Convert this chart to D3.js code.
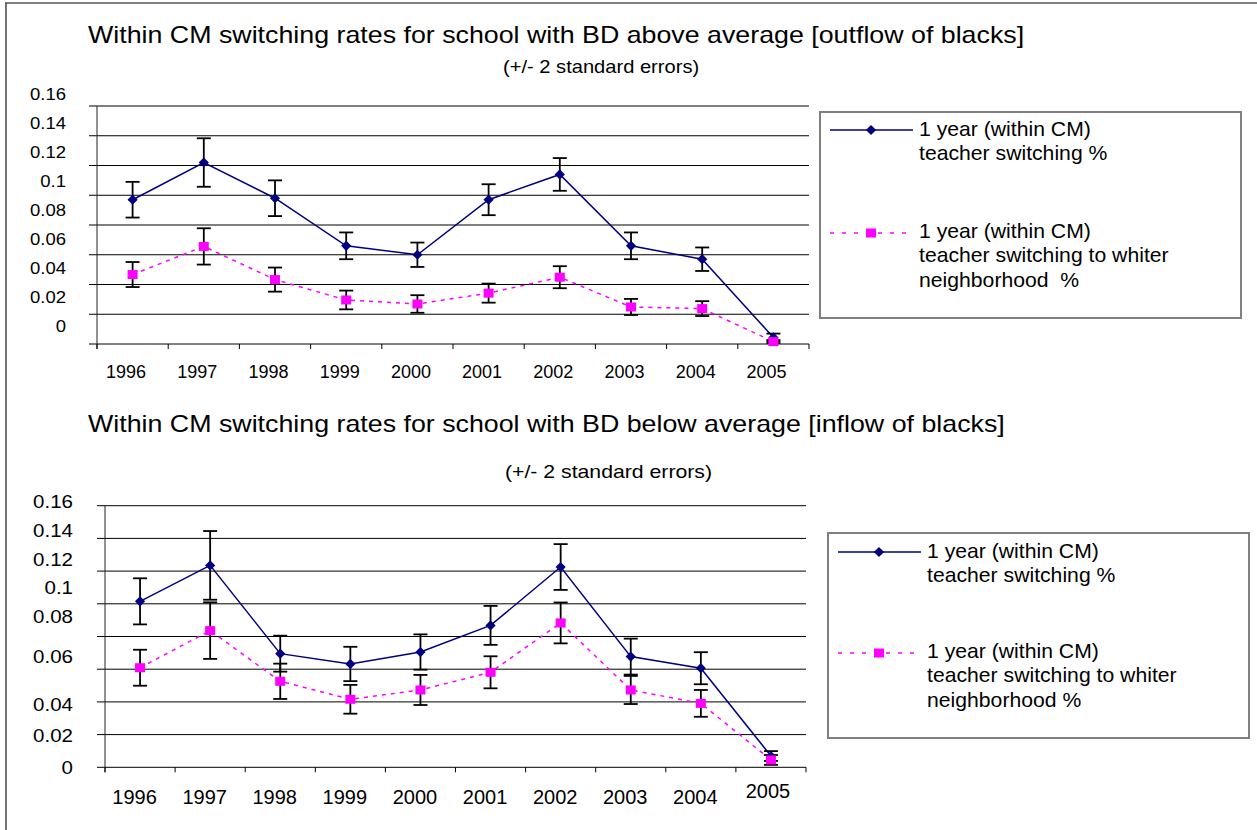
<!DOCTYPE html>
<html>
<head>
<meta charset="utf-8">
<script src="https://cdn.jsdelivr.net/npm/d3@7"></script>
<style>
  html, body { margin: 0; padding: 0; background: #fff; }
  svg { display: block; font-family: "Liberation Sans", Arial, sans-serif; }
  text { fill: #000; white-space: pre; }
</style>
</head>
<body>
<svg id="chart" width="1257" height="830"></svg>
<script>
// ---- data ----
const years = ["1996", "1997", "1998", "1999", "2000", "2001", "2002", "2003", "2004", "2005"];
const yTickValues = [0, 0.02, 0.04, 0.06, 0.08, 0.10, 0.12, 0.14, 0.16];
const yTickLabels = ["0", "0.02", "0.04", "0.06", "0.08", "0.1", "0.12", "0.14", "0.16"];

// schools with BD above average (outflow of blacks)
const switchAbove    = [0.097, 0.122, 0.098, 0.066, 0.060, 0.097, 0.114, 0.066, 0.057, 0.0044];
const switchAboveErr = [0.012, 0.0163, 0.012, 0.009, 0.0082, 0.0104, 0.011, 0.009, 0.0079, 0.0026];
const whiterAbove    = [0.0467, 0.0656, 0.0433, 0.0296, 0.0269, 0.0342, 0.0449, 0.0249, 0.0238, 0.0016];
const whiterAboveErr = [0.0084, 0.0122, 0.0081, 0.0063, 0.0059, 0.0064, 0.0074, 0.0054, 0.005, 0.001];

// schools with BD below average (inflow of blacks)
const switchBelow    = [0.1015, 0.1235, 0.0695, 0.0632, 0.0705, 0.0868, 0.1225, 0.0677, 0.0606, 0.0069];
const switchBelowErr = [0.0141, 0.021, 0.011, 0.0105, 0.0108, 0.0119, 0.014, 0.011, 0.0098, 0.003];
const whiterBelow    = [0.0609, 0.0836, 0.0526, 0.0416, 0.0473, 0.0581, 0.0883, 0.0473, 0.0391, 0.0045];
const whiterBelowErr = [0.011, 0.0173, 0.0108, 0.0088, 0.0092, 0.0098, 0.0125, 0.0086, 0.0082, 0.003];

const titleAbove = "Within CM switching rates for school with BD above average [outflow of blacks]";
const titleBelow = "Within CM switching rates for school with BD below average [inflow of blacks]";
const subtitle = "(+/- 2 standard errors)";
const legendSwitch = ["1 year (within CM)", "teacher switching %"];
const legendWhiterAbove = ["1 year (within CM)", "teacher switching to whiter", "neighborhood  %"];
const legendWhiterBelow = ["1 year (within CM)", "teacher switching to whiter", "neighborhood %"];

// ---- styling ----
const NAVY = "#000080";
const MAGENTA = "#FF00FF";

const svg = d3.select("#chart");

// outer frame edges
svg.append("line").attr("x1", 5).attr("x2", 1257).attr("y1", 3).attr("y2", 3)
  .attr("stroke", "#808080").attr("stroke-width", 2);
svg.append("line").attr("x1", 6).attr("x2", 6).attr("y1", 3).attr("y2", 830)
  .attr("stroke", "#444").attr("stroke-width", 1.5);

// text with a horizontal stretch factor
function label(g, x, y, str, size, sx, anchor) {
  return g.append("text")
    .attr("transform", `translate(${x},${y}) scale(${sx},1)`)
    .attr("text-anchor", anchor || "start")
    .attr("xml:space", "preserve")
    .style("font-size", size + "px")
    .text(str);
}

function drawPanel(cfg) {
  const g = svg.append("g");

  const x = d3.scaleBand().domain(years).range([cfg.left, cfg.right]).padding(0);
  const y = d3.scaleLinear().domain([0, 0.16]).range([cfg.bottom, cfg.top]);
  const cx = d => x(d) + x.bandwidth() / 2;

  // titles
  label(g, cfg.titleX, cfg.titleY, cfg.title, 23, 1.165);
  label(g, cfg.subX, cfg.subY, subtitle, cfg.subSize, cfg.subSx);

  // gridlines (extend left past the axis as tick marks)
  g.append("g").selectAll("line").data(yTickValues).join("line")
    .attr("x1", cfg.left - 8).attr("x2", cfg.right)
    .attr("y1", d => y(d)).attr("y2", d => y(d))
    .attr("stroke", "#000").attr("stroke-width", 1);

  // value axis line
  g.append("line").attr("x1", cfg.left).attr("x2", cfg.left)
    .attr("y1", y(0.16)).attr("y2", y(0) + 5)
    .attr("stroke", "#222").attr("stroke-width", 1);

  // category tick marks between years
  const edges = years.map(d => x(d)).concat([x.range()[1]]);
  g.append("g").selectAll("line").data(edges).join("line")
    .attr("x1", d => d).attr("x2", d => d)
    .attr("y1", y(0)).attr("y2", y(0) + 5)
    .attr("stroke", "#000").attr("stroke-width", 1);

  // value labels
  const ly = cfg.labelScale;
  yTickValues.forEach((v, i) => {
    label(g, cfg.yLabelRight, ly(v), yTickLabels[i], cfg.yLabelSize, cfg.yLabelSx, "end");
  });

  // category labels
  years.forEach((yr, i) => {
    const last = i === years.length - 1;
    label(g, cx(yr) + (last ? cfg.lastDx : cfg.xLabelDx),
          cfg.xLabelY + (last ? cfg.lastDy : 0), yr, cfg.xLabelSize, 1, "middle");
  });

  const series = [
    { vals: cfg.s1, err: cfg.e1, color: NAVY, dash: null, marker: "diamond" },
    { vals: cfg.s2, err: cfg.e2, color: MAGENTA, dash: "4,5", marker: "square" }
  ];

  // lines
  series.forEach(s => {
    const line = d3.line().x((d, i) => cx(years[i])).y(d => y(d));
    g.append("path").datum(s.vals)
      .attr("d", line).attr("fill", "none")
      .attr("stroke", s.color).attr("stroke-width", 1.5)
      .attr("stroke-dasharray", s.dash);
  });

  // error bars (+/- 2 s.e.)
  series.forEach(s => {
    const eg = g.append("g").attr("stroke", "#000").attr("stroke-width", 1.8);
    s.vals.forEach((v, i) => {
      const xc = cx(years[i]);
      const hi = y(v + s.err[i]), lo = y(v - s.err[i]);
      eg.append("line").attr("x1", xc).attr("x2", xc).attr("y1", hi).attr("y2", lo);
      eg.append("line").attr("x1", xc - 7).attr("x2", xc + 7).attr("y1", hi).attr("y2", hi);
      eg.append("line").attr("x1", xc - 7).attr("x2", xc + 7).attr("y1", lo).attr("y2", lo);
    });
  });

  // markers
  const diamond = d3.symbol(d3.symbolSquare, 52)();
  g.append("g").selectAll("path").data(cfg.s1).join("path")
    .attr("d", diamond)
    .attr("transform", (d, i) => `translate(${cx(years[i])},${y(d)}) rotate(45)`)
    .attr("fill", NAVY);
  g.append("g").selectAll("rect").data(cfg.s2).join("rect")
    .attr("x", (d, i) => cx(years[i]) - 5).attr("y", d => y(d) - 4.5)
    .attr("width", 10).attr("height", 9)
    .attr("fill", MAGENTA);

  // legend
  const L = cfg.legend;
  const lg = g.append("g");
  lg.append("rect").attr("x", L.x).attr("y", L.y).attr("width", L.w).attr("height", L.h)
    .attr("fill", "#fff").attr("stroke", "#7f7f7f").attr("stroke-width", 2);
  const sx0 = L.x + 10, sx1 = L.x + 93, mx = L.x + 51;
  // switching entry
  lg.append("line").attr("x1", sx0).attr("x2", sx1).attr("y1", L.row1).attr("y2", L.row1)
    .attr("stroke", NAVY).attr("stroke-width", 1.5);
  lg.append("path").attr("d", diamond)
    .attr("transform", `translate(${mx},${L.row1}) rotate(45)`).attr("fill", NAVY);
  legendSwitch.forEach((t, i) => label(lg, L.x + 99, L.row1 + 6 + i * 24, t, 20, 1.06));
  // whiter neighborhood entry
  lg.append("line").attr("x1", sx0).attr("x2", sx1).attr("y1", L.row2).attr("y2", L.row2)
    .attr("stroke", MAGENTA).attr("stroke-width", 1.5).attr("stroke-dasharray", "4,8");
  lg.append("rect").attr("x", mx - 5).attr("y", L.row2 - 4.5).attr("width", 10).attr("height", 9)
    .attr("fill", MAGENTA);
  cfg.legendWhiter.forEach((t, i) => label(lg, L.x + 99, L.row2 + 5 + i * 24.3, t, 20, 1.06));
}

drawPanel({
  title: titleAbove, titleX: 88, titleY: 43,
  subX: 503, subY: 73, subSize: 17.5, subSx: 1.15,
  left: 97, right: 809, top: 106, bottom: 344,
  labelScale: d3.scaleLinear().domain([0, 0.16]).range([331.7, 100]),
  yLabelRight: 66, yLabelSize: 16.3, yLabelSx: 1.135,
  xLabelY: 378, xLabelDx: -6.5, xLabelSize: 18, lastDx: -7, lastDy: 0,
  s1: switchAbove, e1: switchAboveErr, s2: whiterAbove, e2: whiterAboveErr,
  legend: { x: 820, y: 112, w: 421, h: 206, row1: 130, row2: 233 },
  legendWhiter: legendWhiterAbove
});

drawPanel({
  title: titleBelow, titleX: 88, titleY: 432,
  subX: 505, subY: 478, subSize: 18, subSx: 1.18,
  left: 105, right: 806, top: 505.7, bottom: 767.3,
  labelScale: d3.scaleLinear().domain([0, 0.04, 0.06, 0.08, 0.16])
    .range([774, 710.7, 663.3, 622.7, 508.3]),
  yLabelRight: 73, yLabelSize: 17.7, yLabelSx: 1.16,
  xLabelY: 804, xLabelDx: -5.5, xLabelSize: 20, lastDx: -3, lastDy: -6,
  s1: switchBelow, e1: switchBelowErr, s2: whiterBelow, e2: whiterBelowErr,
  legend: { x: 828, y: 533, w: 421, h: 205, row1: 552, row2: 653 },
  legendWhiter: legendWhiterBelow
});
</script>
</body>
</html>
